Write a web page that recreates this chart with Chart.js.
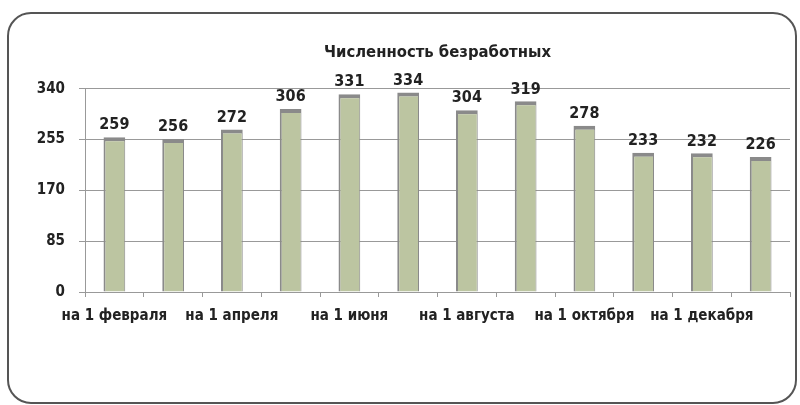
<!DOCTYPE html>
<html lang="ru">
<head>
    <meta charset="UTF-8">
    <title>Численность безработных</title>
    <script src="https://cdn.jsdelivr.net/npm/chart.js"></script>
    <style>
        body {
            margin: 0;
            background: #fff;
        }

        #wrap {
            position: relative;
            width: 800px;
            height: 405px;
            overflow: hidden;
        }

        /* рамка со скруглёнными углами */
        #frame {
            position: absolute;
            left: 7px;
            top: 12px;
            width: 786px;
            height: 388px;
            border: 2px solid #555;
            border-radius: 24px;
        }

        canvas {
            position: absolute;
            left: 0;
            top: 0;
        }
    </style>
</head>
<body>

<div id="wrap">
    <div id="frame"></div>
    <canvas id="myChart" width="800" height="405"></canvas>
</div>

<script>
    var months = ['на 1 февраля', 'на 1 марта', 'на 1 апреля', 'на 1 мая', 'на 1 июня', 'на 1 июля',
                  'на 1 августа', 'на 1 сентября', 'на 1 октября', 'на 1 ноября', 'на 1 декабря', 'на 1 января'];
    var unemployed = [259, 256, 272, 306, 331, 334, 304, 319, 278, 233, 232, 226];
    var yTicks = [0, 85, 170, 255, 340];

    var fontFamily = "'Liberation Sans Narrow', 'DejaVu Sans Condensed', 'Roboto', sans-serif";

    // подписи значений над столбцами
    var valueLabels = {
        id: 'valueLabels',
        afterDatasetsDraw: function (chart) {
            var ctx = chart.ctx;
            var meta = chart.getDatasetMeta(0);
            ctx.save();
            ctx.font = 'bold 16px ' + fontFamily;
            ctx.fillStyle = '#222';
            ctx.textAlign = 'center';
            ctx.textBaseline = 'bottom';
            meta.data.forEach(function (bar, i) {
                ctx.fillText(unemployed[i], bar.x, bar.y - 4);
            });
            ctx.restore();
        }
    };

    var ctx = document.getElementById('myChart').getContext('2d');
    var myChart = new Chart(ctx, {
        type: 'bar',
        data: {
            labels: months,
            datasets: [{
                data: unemployed,
                backgroundColor: '#bcc5a1',
                borderColor: '#8a8a8a',
                borderWidth: {top: 4, left: 2, right: 1, bottom: 0},
                borderSkipped: false,
                barPercentage: 0.37,
                categoryPercentage: 1
            }]
        },
        options: {
            responsive: false,
            animation: false,
            layout: {
                padding: {left: 35, right: 10, top: 43, bottom: 68}
            },
            plugins: {
                legend: {display: false},
                tooltip: {enabled: false},
                title: {
                    display: true,
                    fullSize: false,
                    text: 'Численность безработных',
                    color: '#222',
                    font: {family: fontFamily, size: 16.5, weight: 'bold', lineHeight: 1.2},
                    padding: {top: 0, bottom: 26}
                }
            },
            scales: {
                x: {
                    afterFit: function (scale) { scale.height = 45; },
                    grid: {
                        offset: true,
                        drawOnChartArea: false,
                        drawTicks: true,
                        tickLength: 5,
                        color: '#999'
                    },
                    border: {color: '#999', width: 1},
                    ticks: {
                        autoSkip: false,
                        maxRotation: 0,
                        padding: 10,
                        color: '#222',
                        font: {family: fontFamily, size: 15, weight: 'bold'},
                        callback: function (value, index) {
                            return index % 2 === 0 ? months[index] : '';
                        }
                    }
                },
                y: {
                    min: 0,
                    max: 340,
                    afterFit: function (scale) { scale.width = 50; },
                    afterBuildTicks: function (scale) {
                        scale.ticks = yTicks.map(function (v) { return {value: v}; });
                    },
                    grid: {
                        color: '#999',
                        tickLength: 6
                    },
                    border: {color: '#999', width: 1},
                    ticks: {
                        padding: 14,
                        color: '#222',
                        font: {family: fontFamily, size: 15, weight: 'bold'}
                    }
                }
            }
        },
        plugins: [valueLabels]
    });
</script>

</body>
</html>
